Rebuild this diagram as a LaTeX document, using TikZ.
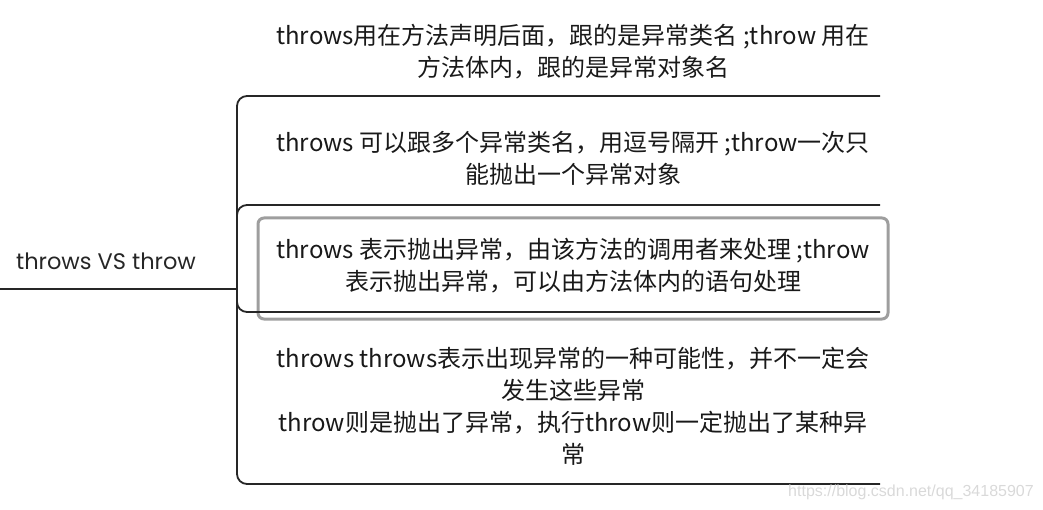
\documentclass[tikz,border=0pt]{standalone}
\usepackage{fontspec}
\setmainfont{Noto Sans CJK SC}
\newfontfamily\rootfont{Poppins}
\newfontfamily\wmfont{Liberation Sans}
\begin{document}
\begin{tikzpicture}[x=1pt,y=-1pt,
  conn/.style={draw=black!85,line width=1.8pt,rounded corners=10pt},
  item/.style={align=center,font=\fontsize{24}{32}\selectfont,text=black!90,inner sep=0pt},
  selbox/.style={draw=black!38,line width=3pt,rounded corners=6pt}]
\useasboundingbox (0,0) rectangle (1043,510);
% root
\node[font=\rootfont\fontsize{22.5}{26}\selectfont,text=black!85,inner sep=0pt] (root) at (106,261) {throws VS throw};
\coordinate (r0) at (0,289);
\coordinate (r) at (237,289);
% item ends
\coordinate (e1) at (880,96);
\coordinate (e2) at (880,205);
\coordinate (e3) at (880,312);
\coordinate (e4) at (880,484);
% selection box
\draw[selbox] (258,218) rectangle (888,319);
% items
\node[item] (i1) at (573,52) {throws用在方法声明后面，跟的是异常类名 ;throw 用在\\方法体内，跟的是异常对象名};
\node[item] (i2) at (573,158) {throws 可以跟多个异常类名，用逗号隔开 ;throw一次只\\能抛出一个异常对象};
\node[item] (i3) at (573,266) {throws 表示抛出异常，由该方法的调用者来处理 ;throw\\表示抛出异常，可以由方法体内的语句处理};
\node[item] (i4) at (573,406) {throws throws表示出现异常的一种可能性，并不一定会\\发生这些异常\\throw则是抛出了异常，执行throw则一定抛出了某种异\\常};
% connectors
\draw[conn] (r0) -- (r);
\draw[conn] (r) |- (e1);
\draw[conn] (r) |- (e2);
\draw[conn] (r) |- (e3);
\draw[conn] (r) |- (e4);
% watermark
\node[font=\wmfont\fontsize{16}{18}\selectfont,text=black!15,inner sep=0pt] (wm) at (911,492) {https://blog.csdn.net/qq\_34185907};
\end{tikzpicture}
\end{document}
